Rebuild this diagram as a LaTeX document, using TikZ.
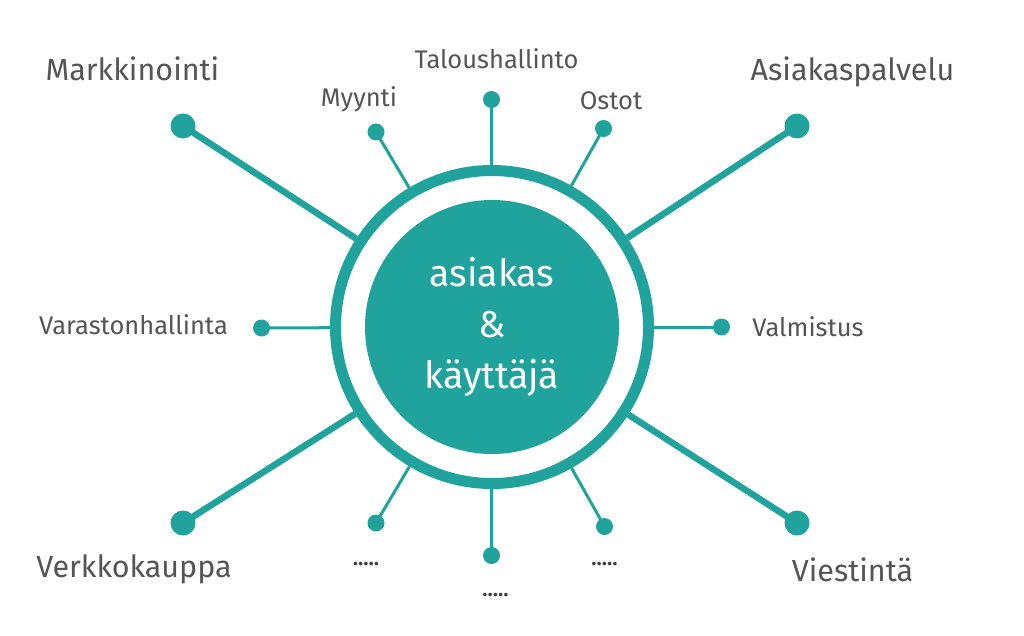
\documentclass[tikz,border=0pt]{standalone}
\usepackage{fontspec}
\setmainfont{Fira Sans}[BoldFont=* Medium]
\definecolor{teal1}{HTML}{21A39D}
\definecolor{txt}{HTML}{555555}
\begin{document}
\begin{tikzpicture}[x=1pt,y=-1pt,
  bigdot/.style={circle, fill=teal1, minimum size=25pt, inner sep=0pt},
  smalldot/.style={circle, fill=teal1, minimum size=17pt, inner sep=0pt},
  bigspoke/.style={draw=teal1, line width=6.5pt},
  smallspoke/.style={draw=teal1, line width=3pt},
  biglabel/.style={anchor=base, text=txt, font=\fontsize{30.5}{36}\selectfont, inner sep=0pt},
  smalllabel/.style={anchor=base, text=txt, font=\fontsize{25.5}{30}\selectfont, inner sep=0pt},
  dotslabel/.style={anchor=base, text=txt!70!black, font=\bfseries\fontsize{22}{26}\selectfont, inner sep=0pt}]
\fill[white] (0,0) rectangle (1024,636);
\path[use as bounding box] (0,0) rectangle (1024,636);

% central ring and core
\node[circle, draw=teal1, line width=11pt, minimum size=313pt, inner sep=0pt] (ring) at (492,327) {};
\node[circle, fill=teal1, minimum size=254pt, inner sep=0pt, text=white, align=center,
      font=\fontsize{37.5}{51}\selectfont] (core) at (492,327) {asiakas\\\&\\käyttäjä};

% big dots
\node[bigdot] (mk) at (183,126) {};
\node[bigdot] (ap) at (797,126) {};
\node[bigdot] (vk) at (183,523) {};
\node[bigdot] (vi) at (797,523) {};
% small dots
\node[smalldot] (my) at (376,132) {};
\node[smalldot] (ta) at (491.5,99.5) {};
\node[smalldot] (os) at (603.5,128.5) {};
\node[smalldot] (va) at (261.5,328) {};
\node[smalldot] (vm) at (721.5,327) {};
\node[smalldot] (bl) at (376,523) {};
\node[smalldot] (bm) at (491.5,555.5) {};
\node[smalldot] (br) at (604.5,526.5) {};

% spokes
\draw[bigspoke] (mk.center) -- (ring);
\draw[bigspoke] (ap.center) -- (ring);
\draw[bigspoke] (vk.center) -- (ring);
\draw[bigspoke] (vi.center) -- (ring);
\draw[smallspoke] (my.center) -- (ring);
\draw[smallspoke] (ta.center) -- (ring);
\draw[smallspoke] (os.center) -- (ring);
\draw[smallspoke] (va.center) -- (ring);
\draw[smallspoke] (vm.center) -- (ring);
\draw[smallspoke] (bl.center) -- (ring);
\draw[smallspoke] (bm.center) -- (ring);
\draw[smallspoke] (br.center) -- (ring);

% labels
\node[biglabel] (lmk) at (132.5,81) {Markkinointi};
\node[biglabel] (lap) at (852.5,81) {Asiakaspalvelu};
\node[biglabel] (lvk) at (134,577) {Verkkokauppa};
\node[biglabel] (lvi) at (852.5,581) {Viestintä};
\node[smalllabel] (lmy) at (359,107) {Myynti};
\node[smalllabel] (lta) at (496.5,69) {Taloushallinto};
\node[smalllabel] (los) at (611,110) {Ostot};
\node[smalllabel] (lva) at (133.5,334) {Varastonhallinta};
\node[smalllabel] (lvm) at (808,336) {Valmistus};
\node[dotslabel] (lbl) at (366,565) {.....};
\node[dotslabel] (lbm) at (495.5,596) {.....};
\node[dotslabel] (lbr) at (604.5,565) {.....};
\end{tikzpicture}
\end{document}
